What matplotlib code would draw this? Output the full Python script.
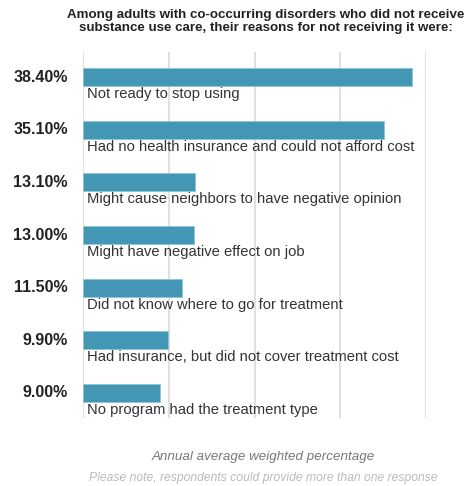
import matplotlib.pyplot as plt

plt.rcParams['font.family'] = ['Liberation Sans', 'DejaVu Sans']

# reasons for not receiving care, in chart order (top to bottom)
reasons = [
    'Not ready to stop using',
    'Had no health insurance and could not afford cost',
    'Might cause neighbors to have negative opinion',
    'Might have negative effect on job',
    'Did not know where to go for treatment',
    'Had insurance, but did not cover treatment cost',
    'No program had the treatment type',
]
percentages = [38.4, 35.1, 13.1, 13.0, 11.5, 9.9, 9.0]
grid_ticks = [0, 10, 20, 30, 40]

bar_color = '#4397b5'

fig = plt.figure(figsize=(4.68, 4.86), dpi=100)
ax = fig.add_axes([0.1774, 0.1399, 0.7329, 0.753])

y_pos = list(range(len(reasons)))
ax.barh(y_pos, percentages, height=0.34, color=bar_color,
        edgecolor='#8cc6da', linewidth=0.6, zorder=3)

ax.set_xlim(0, 40)
ax.set_ylim(6.475, -0.475)
ax.set_xticks(grid_ticks)
ax.set_yticks([])
ax.xaxis.grid(True, color='#e0e0e0', linewidth=1.4, zorder=0)
ax.tick_params(axis='x', length=0, labelbottom=False)
for spine in ax.spines.values():
    spine.set_visible(False)

for y, pct, reason in zip(y_pos, percentages, reasons):
    # bold value to the left of the axis
    ax.annotate(f'{pct:.2f}%', xy=(0, y), xytext=(-11, 0),
                textcoords='offset points', ha='right', va='center',
                fontsize=11.5, fontweight='bold', color='#222222')
    # reason text under the bar
    ax.annotate(reason, xy=(0, y + 0.17), xytext=(3, -0.8),
                textcoords='offset points', ha='left', va='top',
                fontsize=10.6, color='#333333')

fig.text(0.568, 0.982,
         'Among adults with co-occurring disorders who did not receive\n'
         'substance use care, their reasons for not receiving it were:',
         ha='center', va='top', fontsize=9.6, fontweight='bold',
         color='#222222', linespacing=1.12)

fig.text(0.562, 0.059, 'Annual average weighted percentage',
         ha='center', va='center', fontsize=9.6, style='italic',
         color='#777777')
fig.text(0.562, 0.016, 'Please note, respondents could provide more than one response',
         ha='center', va='center', fontsize=8.7, style='italic',
         color='#bbbbbb')

fig.savefig('out.png', dpi=100)
